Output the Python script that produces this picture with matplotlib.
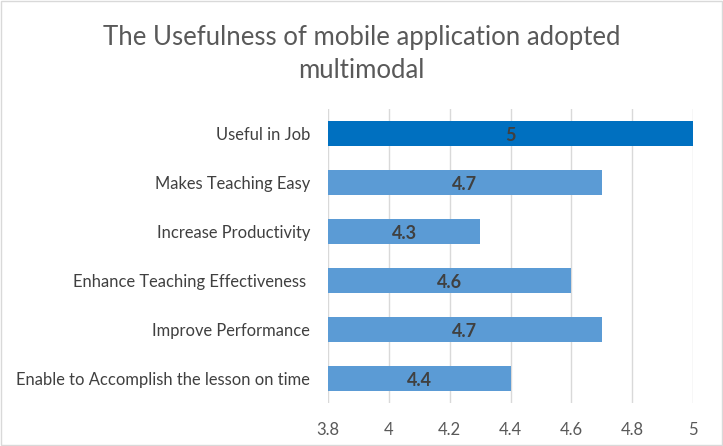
import matplotlib.pyplot as plt
from matplotlib.patches import Rectangle

plt.rcParams['font.family'] = ['Lato', 'DejaVu Sans']

categories = ['Useful in Job', 'Makes Teaching Easy', 'Increase Productivity',
              'Enhance Teaching Effectiveness ', 'Improve Performance',
              'Enable to Accomplish the lesson on time']
values = [5, 4.7, 4.3, 4.6, 4.7, 4.4]
colors = ['#0070C0', '#5B9BD5', '#5B9BD5', '#5B9BD5', '#5B9BD5', '#5B9BD5']
ticks = [3.8, 4, 4.2, 4.4, 4.6, 4.8, 5]
tick_labels = ['3.8', '4', '4.2', '4.4', '4.6', '4.8', '5']

fig = plt.figure(figsize=(7.23, 4.46), dpi=100)
ax = fig.add_axes([0.4537, 0.0964, 0.5048, 0.6592])

y = list(range(len(categories)))[::-1]
base = 3.8
ax.barh(y, [v - base for v in values], left=base, height=0.53, color=colors, zorder=2)
for yi, v in zip(y, values):
    ax.text((base + v) / 2, yi - 0.04, str(v), ha='center', va='center',
            fontsize=13, fontweight='bold', color='#404040', zorder=3)

ax.set_xlim(3.8, 5)
ax.set_ylim(-0.5, len(categories) - 0.5)
ax.set_xticks(ticks)
ax.set_xticklabels(tick_labels, fontsize=12, color='#595959')
ax.set_yticks(y)
ax.set_yticklabels(categories, fontsize=11.9, color='#404040')
ax.tick_params(axis='y', length=0, pad=13)
ax.tick_params(axis='x', length=0, pad=14)
ax.grid(axis='x', color='#D9D9D9', linewidth=1, zorder=0)
for s in ax.spines.values():
    s.set_visible(False)

fig.text(0.5, 0.915, 'The Usefulness of mobile application adopted', ha='center',
         va='center', fontsize=18.5, color='#595959')
fig.text(0.5, 0.843, 'multimodal', ha='center', va='center', fontsize=18.5, color='#595959')

fig.patches.append(Rectangle((0.002, 0.002), 0.996, 0.996, transform=fig.transFigure,
                             fill=False, edgecolor='#D9D9D9', linewidth=1))

fig.savefig('out.png', dpi=100)
